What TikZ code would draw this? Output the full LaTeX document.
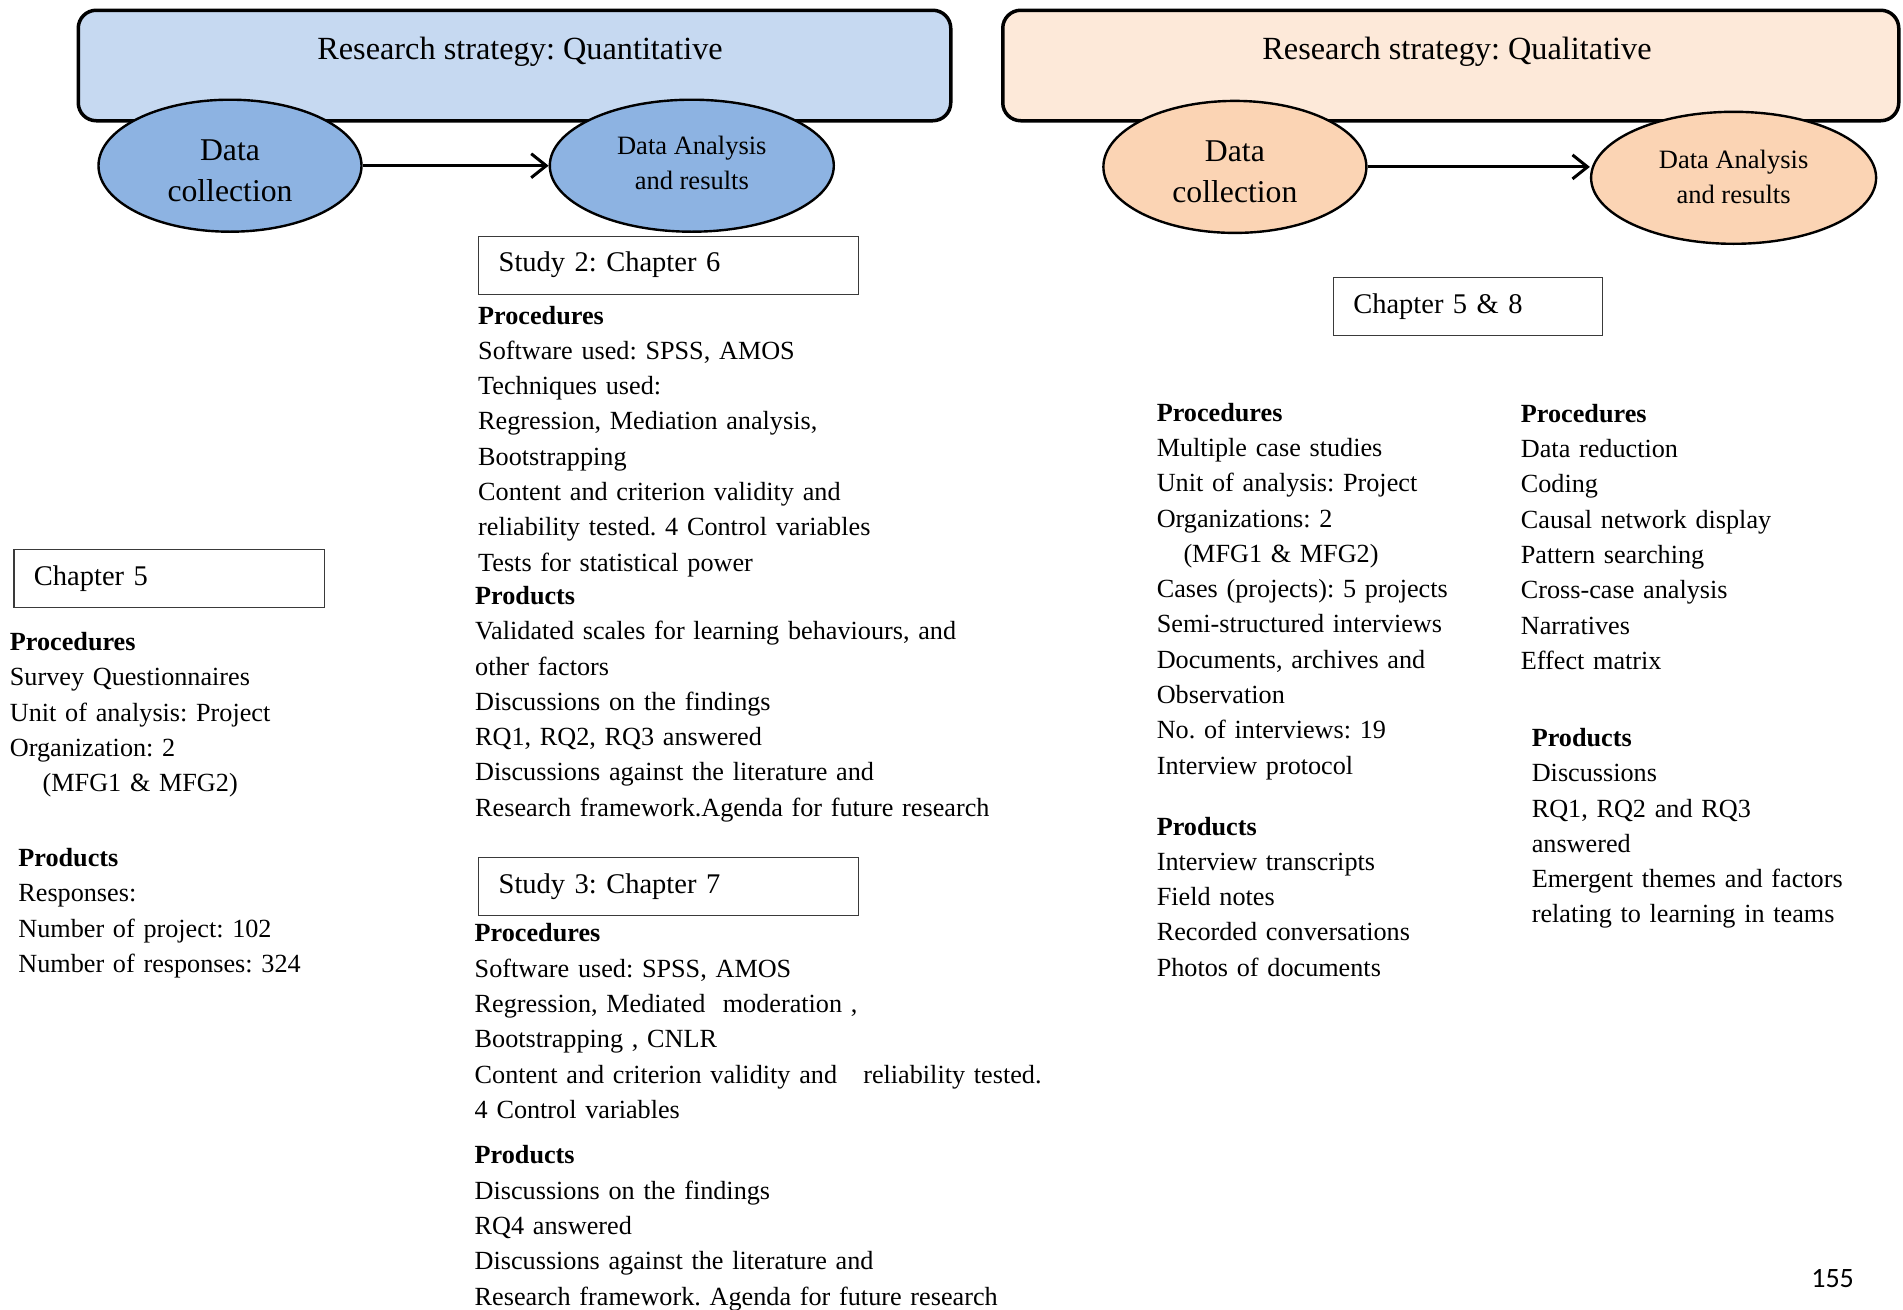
\documentclass[tikz,border=0pt]{standalone}
\usepackage{fontspec}
\setmainfont{Liberation Serif}
\newfontfamily\pagefont{Carlito}
\usetikzlibrary{arrows.meta,shapes.geometric}
\frenchspacing

\definecolor{quanthead}{HTML}{C6D9F1}
\definecolor{quantoval}{HTML}{8DB3E2}
\definecolor{qualhead}{HTML}{FDE9D9}
\definecolor{qualoval}{HTML}{FBD4B4}
\definecolor{boxline}{HTML}{3A3A3A}

\tikzset{
  header/.style={draw=black, line width=3.5pt, rounded corners=18pt, anchor=north west, inner sep=0pt, minimum height=110.5pt},
  headtext/.style={font=\fontsize{32.3}{38}\selectfont, inner sep=0pt, anchor=base},
  oval/.style={ellipse, draw=black, line width=2.4pt, inner sep=0pt, minimum height=132pt},
  collect/.style={oval, minimum width=263pt},
  analyse/.style={oval, minimum width=284pt},
  colltext/.style={inner sep=0pt, align=center, font=\fontsize{31.7}{41}\selectfont},
  analtext/.style={inner sep=0pt, align=center, font=\fontsize{26.5}{35.2}\selectfont},
  flow/.style={line width=3pt, -{Straight Barb[length=15pt,width=24pt,line width=3pt]}},
  chapbox/.style={draw=boxline, line width=1.3pt, anchor=north west, inner xsep=20pt, inner ysep=0pt,
    minimum height=58pt, align=left, font=\fontsize{28.5}{35}\selectfont},
  body/.style={anchor=base west, inner sep=0pt, align=left, text width=700pt, font=\fontsize{26.2}{35.3}\selectfont},
}

\begin{document}
\begin{tikzpicture}[x=1pt,y=-1pt]
\fill[white] (0,0) rectangle (1903,1309);
\useasboundingbox (0,0) rectangle (1903,1309);

% ---------------- quantitative strand ----------------
\node[header, fill=quanthead, minimum width=872.5pt] (quanthdr) at (76.5,8.5) {};
\node[headtext] (quanttitle) at (520,59.5) {Research strategy: Quantitative};
\node[collect, fill=quantoval] (quantcoll) at (230,165.7) {};
\node[colltext] (quantcolltext) at (230,170.5) {Data\\collection};
\node[analyse, fill=quantoval] (quantanal) at (691.8,165.7) {};
\node[analtext] (quantanaltext) at (691.8,163.3) {Data Analysis\\and results};
\draw[flow] (quantcoll.east) -- (quantanal.west);

% Chapter 5 (survey)
\node[chapbox, text width=270.7pt] (chfive) at (13.3,548.5) {Chapter 5};
\node[body] (chfiveproc) at (9.7,650.5) {{\bfseries Procedures}\\
  Survey Questionnaires\\
  Unit of analysis: Project\\
  Organization: 2\\
  \hspace*{32.8pt}(MFG1 \& MFG2)};
\node[body] (chfiveprod) at (18.2,866.5) {{\bfseries Products}\\
  Responses:\\
  Number of project: 102\\
  Number of responses: 324};

% Study 2
\node[chapbox, text width=340pt] (studytwo) at (478,235.5) {Study 2: Chapter 6};
\node[body] (studytwoproc) at (478,324) {{\bfseries Procedures}\\
  Software used: SPSS, AMOS\\
  Techniques used:\\
  Regression, Mediation analysis,\\
  Bootstrapping\\
  Content and criterion validity and\\
  reliability tested. 4 Control variables\\
  Tests for statistical power};
\node[body] (studytwoprod) at (475,604.4) {{\bfseries Products}\\
  Validated scales for learning behaviours, and\\
  other factors\\
  Discussions on the findings\\
  RQ1, RQ2, RQ3 answered\\
  Discussions against the literature and\\
  Research framework.Agenda for future research};

% Study 3
\node[chapbox, text width=340pt] (studythree) at (478,857) {Study 3: Chapter 7};
\node[body] (studythreeproc) at (474.5,941.8) {{\bfseries Procedures}\\
  Software used: SPSS, AMOS\\
  Regression, Mediated\ \ moderation ,\\
  Bootstrapping , CNLR\\
  Content and criterion validity and\ \ \ reliability tested.\\
  4 Control variables};
\node[body] (studythreeprod) at (474.5,1163.8) {{\bfseries Products}\\
  Discussions on the findings\\
  RQ4 answered\\
  Discussions against the literature and\\
  Research framework. Agenda for future research};

% ---------------- qualitative strand ----------------
\node[header, fill=qualhead, minimum width=896pt] (qualhdr) at (1001,8.5) {};
\node[headtext] (qualtitle) at (1457,59.5) {Research strategy: Qualitative};
\node[collect, fill=qualoval] (qualcoll) at (1234.9,166.9) {};
\node[colltext] (qualcolltext) at (1234.9,171.5) {Data\\collection};
\node[analyse, fill=qualoval, minimum width=285pt] (qualanal) at (1733.6,177.8) {};
\node[analtext] (qualanaltext) at (1733.6,176.8) {Data Analysis\\and results};
\draw[flow] (qualcoll.east) -- (qualcoll.east -| qualanal.west);

\node[chapbox, text width=229.4pt] (chfiveeight) at (1332.6,276.7) {Chapter 5 \& 8};

\node[body] (casesproc) at (1156.6,421.1) {{\bfseries Procedures}\\
  Multiple case studies\\
  Unit of analysis: Project\\
  Organizations: 2\\
  \hspace*{26.7pt}(MFG1 \& MFG2)\\
  Cases (projects): 5 projects\\
  Semi-structured interviews\\
  Documents, archives and\\
  Observation\\
  No. of interviews: 19\\
  Interview protocol};
\node[body] (casesprod) at (1156.6,835) {{\bfseries Products}\\
  Interview transcripts\\
  Field notes\\
  Recorded conversations\\
  Photos of documents};

\node[body] (analproc) at (1520.7,422.3) {{\bfseries Procedures}\\
  Data reduction\\
  Coding\\
  Causal network display\\
  Pattern searching\\
  Cross-case analysis\\
  Narratives\\
  Effect matrix};
\node[body] (analprod) at (1531.6,746.4) {{\bfseries Products}\\
  Discussions\\
  RQ1, RQ2 and RQ3\\
  answered\\
  Emergent themes and factors\\
  relating to learning in teams};

% page number
\node[font=\pagefont\fontsize{28}{34}\selectfont, anchor=base, inner sep=0pt] (pageno) at (1832.6,1287) {155};
\end{tikzpicture}
\end{document}
